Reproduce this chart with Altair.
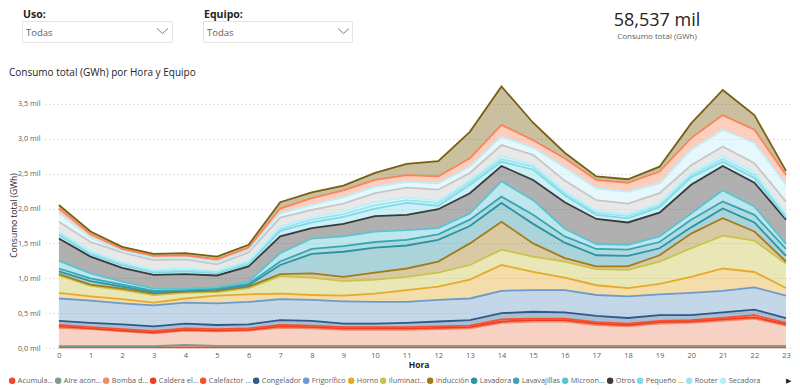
import altair as alt
import pandas as pd

horas = list(range(24))

equipos = ["Acumulador", "Aire acondicionado", "Bomba de calor", "Caldera eléctrica",
           "Calefactor eléctrico", "Congelador", "Frigorífico", "Horno", "Iluminación",
           "Inducción", "Lavadora", "Lavavajillas", "Microondas", "Otros",
           "Pequeño electrodoméstico", "Router", "Secadora", "Standby", "Televisión",
           "Termo eléctrico", "Vitrocerámica"]

etiquetas = ["Acumula...", "Aire acon...", "Bomba d...", "Caldera el...", "Calefactor ...",
             "Congelador", "Frigorífico", "Horno", "Iluminaci...", "Inducción", "Lavadora",
             "Lavavajillas", "Microon...", "Otros", "Pequeño ...", "Router", "Secadora"]

acumulador = [0.008, 0.008, 0.008, 0.008, 0.01, 0.01, 0.01, 0.01, 0.01, 0.01, 0.01, 0.01, 0.01, 0.01, 0.01, 0.01, 0.01, 0.01, 0.01, 0.01, 0.01, 0.01, 0.01, 0.01]
aire = [0.017, 0.017, 0.017, 0.017, 0.035, 0.02, 0.02, 0.02, 0.02, 0.02, 0.02, 0.02, 0.02, 0.02, 0.02, 0.02, 0.02, 0.02, 0.02, 0.02, 0.02, 0.02, 0.02, 0.02]
bomba = [0.265, 0.245, 0.215, 0.185, 0.205, 0.21, 0.22, 0.26, 0.25, 0.23, 0.23, 0.23, 0.24, 0.25, 0.33, 0.35, 0.35, 0.30, 0.28, 0.32, 0.33, 0.36, 0.39, 0.29]
caldera = [0.02, 0.01, 0.01, 0.01, 0.01, 0.01, 0.01, 0.02, 0.02, 0.02, 0.02, 0.02, 0.02, 0.02, 0.02, 0.02, 0.02, 0.02, 0.02, 0.02, 0.02, 0.02, 0.02, 0.02]
calefactor = [0.02, 0.02, 0.02, 0.02, 0.02, 0.02, 0.02, 0.02, 0.02, 0.02, 0.02, 0.02, 0.02, 0.02, 0.03, 0.02, 0.02, 0.02, 0.02, 0.02, 0.02, 0.02, 0.03, 0.02]
congelador = [0.06, 0.06, 0.07, 0.07, 0.07, 0.06, 0.06, 0.07, 0.07, 0.05, 0.05, 0.06, 0.07, 0.08, 0.09, 0.10, 0.09, 0.09, 0.08, 0.08, 0.07, 0.08, 0.08, 0.07]
frigorifico = [0.32, 0.32, 0.30, 0.30, 0.30, 0.31, 0.32, 0.30, 0.30, 0.32, 0.31, 0.30, 0.31, 0.31, 0.32, 0.31, 0.32, 0.30, 0.31, 0.30, 0.32, 0.31, 0.32, 0.32]
horno = [0.08, 0.06, 0.06, 0.04, 0.06, 0.11, 0.11, 0.08, 0.07, 0.08, 0.12, 0.17, 0.19, 0.27, 0.37, 0.26, 0.18, 0.14, 0.12, 0.15, 0.23, 0.32, 0.22, 0.11]
iluminacion = [0.25, 0.15, 0.13, 0.11, 0.08, 0.05, 0.09, 0.25, 0.25, 0.21, 0.20, 0.19, 0.20, 0.21, 0.22, 0.22, 0.23, 0.23, 0.26, 0.32, 0.41, 0.47, 0.45, 0.35]
induccion = [0.02, 0.02, 0.02, 0.02, 0.02, 0.02, 0.02, 0.03, 0.06, 0.06, 0.10, 0.12, 0.16, 0.31, 0.40, 0.19, 0.05, 0.04, 0.05, 0.09, 0.21, 0.25, 0.13, 0.03]
lavadora = [0.04, 0.05, 0.03, 0.02, 0.01, 0.02, 0.02, 0.13, 0.28, 0.36, 0.36, 0.33, 0.31, 0.25, 0.27, 0.28, 0.22, 0.16, 0.15, 0.10, 0.09, 0.14, 0.13, 0.08]
lavavajillas = [0.04, 0.04, 0.03, 0.02, 0.01, 0.01, 0.02, 0.05, 0.07, 0.08, 0.08, 0.08, 0.08, 0.09, 0.09, 0.13, 0.09, 0.09, 0.09, 0.09, 0.11, 0.10, 0.11, 0.10]
microondas = [0.11, 0.07, 0.04, 0.03, 0.02, 0.02, 0.03, 0.12, 0.15, 0.14, 0.15, 0.14, 0.09, 0.09, 0.22, 0.21, 0.11, 0.07, 0.07, 0.08, 0.09, 0.16, 0.12, 0.07]
otros = [0.32, 0.24, 0.20, 0.20, 0.21, 0.17, 0.22, 0.24, 0.15, 0.18, 0.22, 0.22, 0.27, 0.29, 0.22, 0.29, 0.38, 0.36, 0.32, 0.34, 0.41, 0.35, 0.34, 0.35]
pequeno = [0.05, 0.03, 0.04, 0.03, 0.04, 0.03, 0.03, 0.08, 0.08, 0.10, 0.11, 0.17, 0.05, 0.12, 0.06, 0.15, 0.10, 0.06, 0.06, 0.08, 0.11, 0.06, 0.07, 0.03]
router = [0.03, 0.03, 0.02, 0.02, 0.02, 0.02, 0.03, 0.03, 0.04, 0.04, 0.05, 0.04, 0.04, 0.04, 0.04, 0.04, 0.03, 0.03, 0.03, 0.03, 0.03, 0.04, 0.04, 0.03]
secadora = [0.02, 0.02, 0.02, 0.02, 0.02, 0.02, 0.02, 0.03, 0.03, 0.04, 0.04, 0.04, 0.03, 0.03, 0.04, 0.03, 0.03, 0.03, 0.03, 0.03, 0.03, 0.04, 0.04, 0.03]
standby = [0.14, 0.13, 0.14, 0.14, 0.13, 0.09, 0.12, 0.13, 0.11, 0.11, 0.13, 0.14, 0.16, 0.10, 0.16, 0.14, 0.15, 0.15, 0.15, 0.14, 0.11, 0.14, 0.13, 0.17]
television = [0.12, 0.06, 0.02, 0.03, 0.03, 0.03, 0.03, 0.06, 0.07, 0.09, 0.09, 0.08, 0.09, 0.09, 0.12, 0.10, 0.19, 0.17, 0.17, 0.14, 0.22, 0.24, 0.29, 0.24]
termo = [0.07, 0.05, 0.03, 0.03, 0.03, 0.04, 0.04, 0.07, 0.10, 0.10, 0.10, 0.10, 0.10, 0.12, 0.17, 0.11, 0.13, 0.12, 0.13, 0.17, 0.17, 0.21, 0.19, 0.14]
vitro = [0.05, 0.04, 0.03, 0.03, 0.03, 0.04, 0.04, 0.09, 0.08, 0.07, 0.10, 0.16, 0.22, 0.38, 0.55, 0.25, 0.08, 0.05, 0.05, 0.07, 0.21, 0.36, 0.21, 0.06]

series = [acumulador, aire, bomba, caldera, calefactor, congelador, frigorifico, horno,
          iluminacion, induccion, lavadora, lavavajillas, microondas, otros, pequeno,
          router, secadora, standby, television, termo, vitro]

colores = ["#F2472C", "#7E9A8B", "#EC8C6B", "#F03D22", "#F7502F", "#2B5A8B", "#6B9BC8",
           "#E6AA2A", "#C8C449", "#A37B1B", "#2B93A3", "#39A5B4", "#5BC4D1", "#3A3A3A",
           "#7ED9E8", "#9DE3EF", "#B9F1F8", "#C6C6C6", "#C0EEF7", "#F8845B", "#7A5F10"]

kpi_valor = "58,537 mil"
kpi_texto = "Consumo total (GWh)"
titulo = "Consumo total (GWh) por Hora y Equipo"

rows = []
for i, (eq, vals) in enumerate(zip(equipos, series)):
    for h, v in zip(horas, vals):
        rows.append({"Hora": h, "Equipo": eq, "orden": i, "Consumo": v})
df = pd.DataFrame(rows)

FONT = "Segoe UI, Open Sans, sans-serif"
OX, OY = 45, 83  # plot origin on the page

label_expr = " : ".join(
    f"datum.label == '{e}' ? '{l}'" for e, l in zip(equipos, etiquetas) if e != l
) + " : datum.label"

xaxis = alt.Axis(values=horas, format="d", grid=False, domain=False, ticks=False,
                 labelOverlap=False, labelPadding=3, labelFontSize=7.5,
                 labelColor="#605E5C", titleFontSize=8.5, titleFontWeight="bold",
                 titleColor="#252423", titlePadding=2, labelFont=FONT, titleFont=FONT)
yaxis = alt.Axis(values=[0, 0.5, 1, 1.5, 2, 2.5, 3, 3.5], domain=False, ticks=False,
                 grid=True, gridDash=[1, 3], gridColor="#C8C6C4", gridWidth=1,
                 labelOverlap=False,
                 labelExpr="replace(format(datum.value, '.1f'), '.', ',') + ' mil'",
                 labelPadding=5, labelFontSize=7.3, labelColor="#605E5C",
                 titleFontSize=8.5, titleFontWeight="normal", titleColor="#252423",
                 titleX=-27, titleY=132, labelFont=FONT, titleFont=FONT)

xscale = alt.Scale(domain=[-0.44, 23.19], nice=False, zero=False)
yscale = alt.Scale(domain=[0, 3.8], nice=False)
xenc = alt.X("Hora:Q", title="Hora", scale=xscale, axis=xaxis)
yenc = alt.Y("y1:Q", title="Consumo total (GWh)", scale=yscale, axis=yaxis)

base = alt.Chart(df).transform_stack(
    stack="Consumo", groupby=["Hora"], as_=["y0", "y1"],
    sort=[alt.SortField("orden", order="ascending")]
)

color_scale = alt.Scale(domain=equipos, range=colores)

areas = base.mark_area(fillOpacity=0.4, interpolate="linear").encode(
    x=xenc,
    y=yenc,
    y2="y0:Q",
    color=alt.Color("Equipo:N", scale=color_scale,
                    legend=alt.Legend(values=equipos[:17], orient="none", direction="horizontal",
                                      columns=17, legendX=-36.5, legendY=294, title=None,
                                      symbolType="circle", symbolSize=42, symbolOpacity=1,
                                      symbolStrokeWidth=0, labelFontSize=7.3,
                                      labelColor="#605E5C", labelFont=FONT, labelOffset=2,
                                      columnPadding=1, padding=0, labelLimit=80,
                                      labelExpr=label_expr)),
)

lines = base.mark_line(strokeWidth=1.8, interpolate="linear").encode(
    x=xenc,
    y=yenc,
    color=alt.Color("Equipo:N", scale=color_scale, legend=None),
    detail="Equipo:N",
)

one = alt.Data(values=[{"k": 1}])


def txt(text, x, y, size, color="#252423", weight="normal", align="left", font=FONT):
    return alt.Chart(one).mark_text(text=text, fontSize=size, color=color, fontWeight=weight,
                                    align=align, baseline="middle", font=font).encode(
        x=alt.value(x - OX), y=alt.value(y - OY))


def box(x1, x2, y1, y2):
    return alt.Chart(one).mark_rect(fill="white", stroke="#E6E4E2", strokeWidth=1).encode(
        x=alt.value(x1 - OX), x2=alt.value(x2 - OX), y=alt.value(y1 - OY), y2=alt.value(y2 - OY))


def seg(x1, y1, x2, y2):
    return alt.Chart(one).mark_rule(color="#605E5C", strokeWidth=0.8).encode(
        x=alt.value(x1 - OX), x2=alt.value(x2 - OX), y=alt.value(y1 - OY), y2=alt.value(y2 - OY))


deco = [
    txt("Uso:", 23, 15, 10.5, weight="bold"),
    txt("Equipo:", 204, 15, 10.5, weight="bold"),
    box(22.5, 172.5, 21.5, 42.5),
    box(203.5, 352.5, 21.5, 42.5),
    txt("Todas", 26, 32.5, 9.5, color="#605E5C"),
    txt("Todas", 207, 32.5, 9.5, color="#605E5C"),
    seg(157, 28.5, 162.5, 33.5), seg(162.5, 33.5, 168, 28.5),
    seg(338, 28.5, 343.5, 33.5), seg(343.5, 33.5, 349, 28.5),
    txt(kpi_valor, 657, 21, 18, align="center"),
    txt(kpi_texto, 657, 37, 8, color="#605E5C", align="center"),
    txt(titulo, 9, 73, 10),
    txt("▶", 786, 381, 7, align="left", font="DejaVu Sans"),
]

chart = alt.layer(areas, lines, *deco).properties(
    width=747, height=265,
    autosize=alt.AutoSizeParams(type="none"),
    padding={"left": OX - 8, "top": OY - 8, "right": 0, "bottom": 40},
    background="white",
).configure_view(stroke=None)

chart.save("out.html", embed_options={"renderer": "svg", "actions": False})
